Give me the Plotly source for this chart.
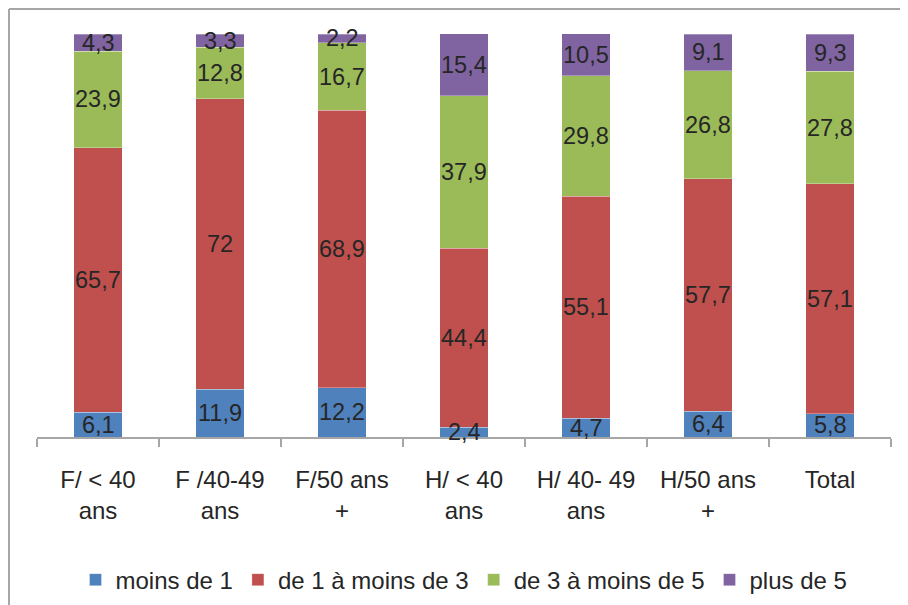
import plotly.graph_objects as go

categories = ["F/ &lt; 40<br>ans", "F /40-49<br>ans", "F/50 ans<br>+", "H/ &lt; 40<br>ans",
              "H/ 40- 49<br>ans", "H/50 ans<br>+", "Total"]
series_names = ["moins de 1", "de 1 à moins de 3", "de 3 à moins de 5", "plus de 5"]
moins_de_1 = [6.1, 11.9, 12.2, 2.4, 4.7, 6.4, 5.8]
de_1_a_3 = [65.7, 72, 68.9, 44.4, 55.1, 57.7, 57.1]
de_3_a_5 = [23.9, 12.8, 16.7, 37.9, 29.8, 26.8, 27.8]
plus_de_5 = [4.3, 3.3, 2.2, 15.4, 10.5, 9.1, 9.3]
colors = ["#4F81BD", "#C0504D", "#9BBB59", "#8064A2"]

def fmt(v):
    return str(v).replace(".", ",")

fig = go.Figure()
annotations = []
base = [0.0] * len(categories)
for name, vals, col in zip(series_names, [moins_de_1, de_1_a_3, de_3_a_5, plus_de_5], colors):
    fig.add_trace(go.Bar(
        x=categories, y=vals, name=name,
        marker=dict(color=col, line=dict(color="rgba(255,255,255,0.6)", width=0.5)),
        hoverinfo="skip",
    ))
    for i, v in enumerate(vals):
        annotations.append(dict(x=categories[i], y=base[i] + v / 2, text=fmt(v), showarrow=False,
                                xref="x", yref="y",
                                font=dict(family="Liberation Sans", size=23.5, color="#262626")))
        base[i] += v

fig.update_layout(
    barmode="stack", bargap=0.605,
    width=908, height=605,
    margin=dict(l=29, r=25, t=26, b=176, autoexpand=False),
    paper_bgcolor="white", plot_bgcolor="white",
    font=dict(family="Liberation Sans", color="#262626"),
    showlegend=True,
    legend=dict(orientation="h", x=0.5, xanchor="center", yref="container", y=0.0545,
                yanchor="middle", font=dict(size=24, color="#262626"),
                itemwidth=30, traceorder="normal", tracegroupgap=0),
    xaxis=dict(showline=True, linecolor="#A6A6A6", linewidth=2, ticks="outside",
               tickson="boundaries", ticklen=8, tickcolor="#A6A6A6", tickwidth=2,
               tickfont=dict(size=24, color="#262626"), ticklabelstandoff=20,
               showgrid=False, zeroline=False),
    yaxis=dict(range=[0, 100], visible=False, showgrid=False, zeroline=False),
    annotations=annotations,
    shapes=[
        dict(type="line", xref="paper", yref="paper", x0=-0.0328, x1=-0.0328, y0=1.062, y1=-0.5,
             line=dict(color="#A6A6A6", width=2)),
        dict(type="line", xref="paper", yref="paper", x0=-0.0328, x1=1.05, y0=1.062, y1=1.062,
             line=dict(color="#A6A6A6", width=2)),
    ],
)

fig.write_html("out.html")
